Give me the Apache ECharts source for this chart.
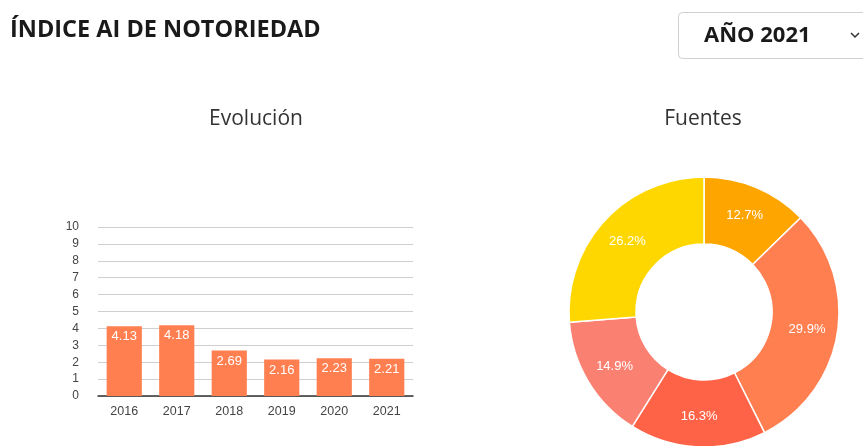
<!DOCTYPE html>
<html>
<head>
<meta charset="utf-8">
<script src="https://cdn.jsdelivr.net/npm/echarts@6/dist/echarts.min.js"></script>
<style>
html,body{margin:0;padding:0;background:#fff;}
#c{width:863px;height:446px;}
</style>
</head>
<body>
<div id="c"></div>
<script>
var years = ['2016','2017','2018','2019','2020','2021'];
var indexValues = [4.13, 4.18, 2.69, 2.16, 2.23, 2.21];
var yTicks = [0,1,2,3,4,5,6,7,8,9,10];
var sourceNames = ['Fuente 1','Fuente 2','Fuente 3','Fuente 4','Fuente 5'];
var sourceShares = [12.7, 29.9, 16.3, 14.9, 26.2];
var sourceColors = ['#FFA500','#FF7F50','#FF6347','#FA8072','#FFD700'];

var chart = echarts.init(document.getElementById('c'), null, {renderer:'canvas'});
chart.setOption({
  animation:false,
  backgroundColor:'#fff',
  graphic:[
    {type:'text', x:10, y:30, style:{text:'ÍNDICE AI DE NOTORIEDAD', fontFamily:'Open Sans', fontWeight:'bold', fontSize:23.5, fill:'#1a1a1a', verticalAlign:'middle'}},
    {type:'text', x:256, y:119, style:{text:'Evolución', fontFamily:'Open Sans', fontWeight:'normal', fontSize:21, fill:'#333', align:'center', verticalAlign:'middle'}},
    {type:'text', x:703, y:119, style:{text:'Fuentes', fontFamily:'Open Sans', fontWeight:'normal', fontSize:21, fill:'#333', align:'center', verticalAlign:'middle'}},
    {type:'rect', shape:{x:678.5, y:12.5, width:200, height:46, r:4},
     style:{fill:'#fff', stroke:'#d0d0d0', lineWidth:1}},
    {type:'text', x:704, y:36, style:{text:'AÑO 2021', fontFamily:'Open Sans', fontWeight:'bold', fontSize:22, fill:'#1a1a1a', verticalAlign:'middle'}},
    {type:'polyline', shape:{points:[[851,33],[855,37],[859,33]]}, style:{stroke:'#333', lineWidth:1.5, fill:null}}
  ],
  grid:{left:98, right:450, top:227, bottom:50, containLabel:false},
  xAxis:{type:'category', data:years,
    axisLine:{lineStyle:{color:'#333', width:1.5}},
    axisTick:{show:false},
    axisLabel:{color:'#444', fontFamily:'Liberation Sans', fontSize:12.5, margin:9}},
  yAxis:{type:'value', min:0, max:10, interval:1,
    axisLine:{show:false}, axisTick:{show:false},
    splitLine:{lineStyle:{color:'#cfcfcf', width:1}},
    axisLabel:{color:'#444', fontFamily:'Liberation Sans', fontSize:12, margin:19,
      formatter:function(v){return yTicks.indexOf(v)>=0? String(v):'';}}},
  series:[
    {type:'bar', data:indexValues, barCategoryGap:'33%',
     itemStyle:{color:'#FF7F50'},
     label:{show:true, position:'insideTop', distance:4, color:'#fff', fontFamily:'Liberation Sans', fontSize:13,
       formatter:function(p){return p.value.toFixed(2);}}},
    {type:'pie', center:[704,312], radius:[68,135], startAngle:90, clockwise:true,
     data:sourceNames.map(function(n,i){return {name:n, value:sourceShares[i], itemStyle:{color:sourceColors[i]}};}),
     itemStyle:{borderColor:'#fff', borderWidth:1.5},
     label:{show:true, position:'inside', color:'#fff', fontFamily:'Liberation Sans', fontSize:13,
       formatter:function(p){return p.value.toFixed(1)+'%';}},
     labelLine:{show:false}, emphasis:{disabled:true}}
  ]
});
</script>
</body>
</html>
